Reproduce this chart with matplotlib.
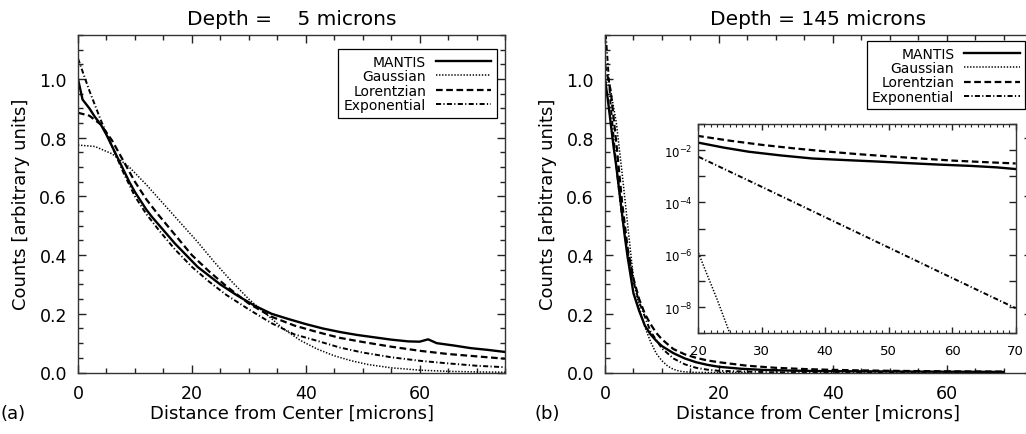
import numpy as np
import matplotlib.pyplot as plt
from matplotlib.ticker import MultipleLocator, FixedLocator

plt.rcParams['font.family'] = 'DejaVu Sans'

labels = ['MANTIS', 'Gaussian', 'Lorentzian', 'Exponential']

# depth = 5 microns
x5_m = [0, 0.8, 2, 3, 4, 5, 6, 7, 8, 9, 10, 11, 12, 13, 15, 17, 19, 21, 23,
        25, 28, 31, 34, 37, 40, 43, 46, 49, 52, 55, 58, 60, 61.5, 63, 66, 69, 72, 75]
y5_m = [1.0, 0.93, 0.9, 0.87, 0.845, 0.81, 0.77, 0.73, 0.69, 0.65, 0.615, 0.585, 0.555, 0.53, 0.485, 0.44, 0.4, 0.36, 0.33,
        0.3, 0.262, 0.228, 0.2, 0.182, 0.165, 0.15, 0.138, 0.128, 0.12, 0.112, 0.106, 0.105, 0.113, 0.1, 0.092, 0.083, 0.077, 0.07]
x5_g = [0, 3, 6, 9, 12, 15, 18, 21, 24, 27, 30, 33, 36, 39, 42, 45, 48, 51, 55, 60, 65, 70, 75]
y5_g = [0.775, 0.77, 0.745, 0.7, 0.64, 0.575, 0.51, 0.445, 0.375, 0.31, 0.25, 0.2, 0.15, 0.11, 0.08, 0.057,
        0.04, 0.027, 0.016, 0.008, 0.004, 0.002, 0.001]
x5_l = [0, 2, 4, 6, 8, 10, 12, 14, 17, 20, 23, 26, 30, 34, 38, 42, 46, 50, 55, 60, 65, 70, 75]
y5_l = [0.885, 0.875, 0.845, 0.79, 0.72, 0.65, 0.59, 0.54, 0.47, 0.4, 0.345, 0.295, 0.235, 0.19, 0.16, 0.138,
        0.118, 0.104, 0.088, 0.074, 0.063, 0.055, 0.047]
x5_e = [0, 2, 4, 6, 8, 10, 12, 14, 17, 20, 23, 26, 30, 34, 38, 42, 46, 50, 55, 60, 65, 70, 75]
y5_e = [1.07, 0.96, 0.86, 0.77, 0.68, 0.6, 0.54, 0.49, 0.42, 0.36, 0.31, 0.265, 0.215, 0.168, 0.13, 0.108,
        0.085, 0.068, 0.052, 0.04, 0.031, 0.023, 0.018]

# depth = 145 microns
x145_m = [0, 0.5, 1, 1.5, 2, 2.5, 3, 3.5, 4, 5, 6, 7, 8, 9, 10, 12, 14, 16, 18, 20,
          24, 28, 33, 38, 43, 48, 53, 58, 63, 67, 70]
y145_m = [1.0, 0.93, 0.85, 0.77, 0.7, 0.62, 0.54, 0.46, 0.39, 0.27, 0.21, 0.16, 0.13, 0.108, 0.09, 0.066, 0.048,
          0.035, 0.026, 0.0195, 0.0126, 0.0087, 0.0063, 0.0048, 0.0042, 0.0037, 0.0032, 0.0028, 0.0025, 0.0022, 0.0019]
x145_g = [0, 1, 2, 3, 4, 5, 6, 7, 8, 9, 10, 11, 12, 13, 14, 16, 18, 20, 21, 22, 23, 24, 25, 26]
y145_g = [1.0, 0.96, 0.85, 0.68, 0.5, 0.32, 0.22, 0.155, 0.105, 0.065, 0.04, 0.022, 0.011, 0.005, 2.2e-3,
          3.5e-4, 3.5e-5, 1.3e-6, 3.2e-7, 8e-8, 2e-8, 4.5e-9, 1e-9, 2e-10]
x145_l = [0, 1, 2, 3, 4, 5, 6, 7, 8, 9, 10, 12, 14, 16, 18, 20, 25, 30, 35, 40, 45, 50, 55, 60, 65, 70]
y145_l = [1.05, 0.96, 0.78, 0.58, 0.42, 0.32, 0.25, 0.2, 0.165, 0.135, 0.113, 0.08, 0.062, 0.05, 0.041, 0.035,
          0.023, 0.016, 0.0118, 0.009, 0.0071, 0.0058, 0.0048, 0.004, 0.0035, 0.0031]
x145_e = [0, 1, 2, 3, 4, 5, 6, 8, 10, 12, 14, 16, 18, 20, 30, 40, 50, 60, 70]
y145_e = [1.19, 0.91, 0.7, 0.53, 0.41, 0.31, 0.24, 0.14, 0.082, 0.048, 0.028, 0.016, 0.0096, 0.0057,
          4.0e-4, 2.75e-5, 1.9e-6, 1.3e-7, 9.1e-9]

styles = [dict(ls='-', lw=1.7),
          dict(ls=(0, (0.9, 1.1)), lw=1.1),
          dict(ls=(0, (3.0, 1.6)), lw=1.6),
          dict(ls=(0, (2.6, 1.2, 0.6, 1.2)), lw=1.4)]


def draw(ax, curves):
    for (x, y), lab, st in zip(curves, labels, styles):
        ax.plot(x, y, color='black', label=lab, **st)


def style_axes(ax):
    ax.tick_params(which='both', direction='in', top=True, right=True, color='#222222')
    ax.tick_params(which='major', length=6, width=1, labelsize=12.5, pad=8)
    ax.tick_params(which='minor', length=3.5, width=1)
    for s in ax.spines.values():
        s.set_linewidth(1.0)
        s.set_color('#333333')


fig = plt.figure(figsize=(10.26, 4.35), dpi=100)
W, H = 1026, 435
ax1 = fig.add_axes([78 / W, 1 - 373.5 / H, 427 / W, 337.5 / H])
ax2 = fig.add_axes([605 / W, 1 - 373.5 / H, 427 / W, 337.5 / H])

draw(ax1, [(x5_m, y5_m), (x5_g, y5_g), (x5_l, y5_l), (x5_e, y5_e)])
draw(ax2, [(x145_m, y145_m), (x145_g, y145_g), (x145_l, y145_l), (x145_e, y145_e)])

titles = ['Depth =    5 microns', 'Depth = 145 microns']
anchors = [(0.981, 0.958), (0.984, 0.982)]
for ax, t, anc in zip([ax1, ax2], titles, anchors):
    ax.set_xlim(0, 75)
    ax.set_ylim(0, 1.15)
    ax.xaxis.set_major_locator(MultipleLocator(20))
    ax.xaxis.set_minor_locator(MultipleLocator(5))
    ax.yaxis.set_major_locator(MultipleLocator(0.2))
    ax.yaxis.set_minor_locator(MultipleLocator(0.05))
    ax.set_yticks([0, 0.2, 0.4, 0.6, 0.8, 1.0])
    style_axes(ax)
    ax.set_title(t, fontsize=14.5, pad=8)
    ax.set_xlabel('Distance from Center [microns]', fontsize=13)
    ax.set_ylabel('Counts [arbitrary units]', fontsize=13)
    ax.xaxis.set_label_coords(0.5, -0.092)
    ax.yaxis.set_label_coords(-0.113, 0.5)
    leg = ax.legend(loc='upper right', bbox_to_anchor=anc, markerfirst=False, fontsize=10,
                    handlelength=4.0, handletextpad=0.7, labelspacing=0.03, borderpad=0.4,
                    borderaxespad=0, fancybox=False, framealpha=1, edgecolor='black')
    leg.get_frame().set_linewidth(0.9)

fig.text(0.0, 1 - 414 / H, '(a)', fontsize=13, va='center', ha='left')
fig.text(535 / W, 1 - 414 / H, '(b)', fontsize=13, va='center', ha='left')

# inset, log scale
axin = fig.add_axes([698 / W, 1 - 334.3 / H, 317.7 / W, 209.3 / H])
draw(axin, [(x145_m, y145_m), (x145_g, y145_g), (x145_l, y145_l), (x145_e, y145_e)])
axin.set_yscale('log')
axin.set_xlim(20, 70)
axin.set_ylim(1e-9, 1e-1)
axin.xaxis.set_major_locator(MultipleLocator(10))
axin.xaxis.set_minor_locator(MultipleLocator(1))
axin.set_yticks([1e-8, 1e-6, 1e-4, 1e-2], labels=[r'$10^{-8}$', r'$10^{-6}$', r'$10^{-4}$', r'$10^{-2}$'])
axin.yaxis.set_minor_locator(FixedLocator([1e-9, 1e-7, 1e-5, 1e-3, 1e-1]))
axin.yaxis.set_minor_formatter(plt.NullFormatter())
axin.tick_params(which='both', direction='in', top=True, right=True, color='#222222')
axin.tick_params(axis='x', which='major', length=4.5, width=1, labelsize=9.5, pad=8)
axin.tick_params(axis='x', which='minor', length=2.5, width=0.8)
axin.tick_params(axis='y', which='both', length=5, width=1, labelsize=8.5, pad=4)
for s in axin.spines.values():
    s.set_linewidth(1.0)
    s.set_color('#333333')

fig.savefig('out.png', dpi=100)
